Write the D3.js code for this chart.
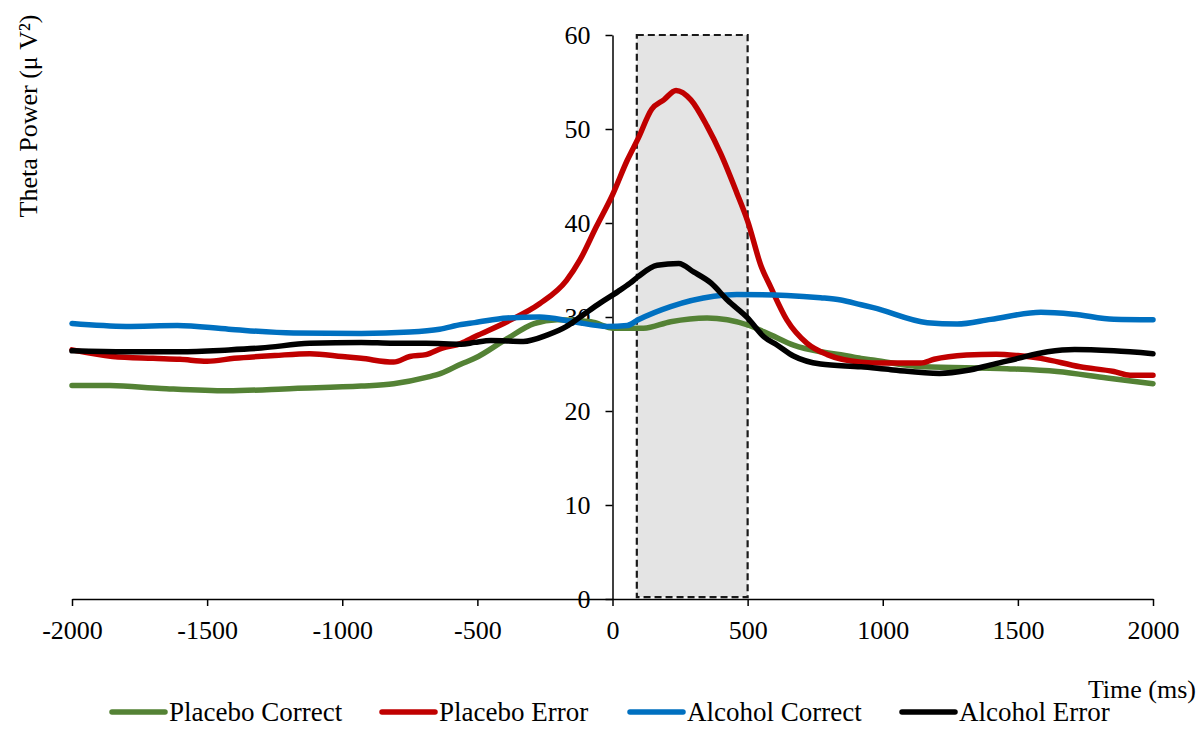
<!DOCTYPE html>
<html>
<head>
<meta charset="utf-8">
<script src="https://cdn.jsdelivr.net/npm/d3@7"></script>
<style>
  body { margin: 0; background: #fff; }
  svg text { font-family: "Liberation Serif", "Times New Roman", serif; fill: #000; }
</style>
</head>
<body>
<svg width="1201" height="751"></svg>
<script>
// data: [time (ms), theta power]
var placeboCorrect = [[-2000,22.7],[-1860,22.7],[-1670,22.4],[-1425,22.15],[-1180,22.4],[-930,22.65],[-810,22.9],
  [-685,23.6],[-635,24.0],[-560,25.0],[-510,25.6],[-390,27.7],[-290,29.3],[-205,29.7],[-80,29.5],[5,28.8],
  [115,28.8],[215,29.5],[350,29.9],[425,29.7],[500,29.15],[585,28.1],[670,27.0],[770,26.3],[845,26.0],
  [920,25.6],[970,25.4],[1150,24.7],[1460,24.5],[1645,24.2],[1830,23.5],[2000,22.9]];

var placeboError = [[-2000,26.5],[-1850,25.8],[-1700,25.6],[-1600,25.5],[-1500,25.3],[-1400,25.6],[-1250,25.9],
  [-1120,26.1],[-1000,25.8],[-930,25.6],[-810,25.2],[-750,25.8],[-690,26.0],[-630,26.7],[-560,27.2],[-510,27.9],
  [-390,29.5],[-270,31.4],[-170,33.9],[-120,36.1],[-60,39.6],[0,43.0],[55,46.7],[95,49.0],[145,52.1],[190,53.1],
  [235,54.1],[290,53.1],[350,50.3],[400,47.4],[460,43.2],[500,40.2],[550,35.4],[585,33.2],[645,29.7],[720,27.2],
  [795,26.0],[920,25.2],[1000,25.1],[1140,25.1],[1190,25.5],[1310,25.95],[1420,26.05],[1500,25.9],[1585,25.6],
  [1730,24.7],[1855,24.2],[1915,23.8],[2000,23.8]];

var alcoholCorrect = [[-2000,29.3],[-1800,29.0],[-1610,29.1],[-1420,28.7],[-1180,28.3],[-930,28.25],[-750,28.4],
  [-640,28.7],[-560,29.2],[-510,29.4],[-390,29.9],[-270,30.0],[-145,29.5],[-20,29.0],[55,29.1],[95,29.7],
  [215,31.1],[375,32.2],[460,32.4],[645,32.3],[770,32.05],[845,31.8],[920,31.3],[965,31.0],[1165,29.4],
  [1275,29.25],[1400,29.75],[1585,30.5],[1705,30.3],[1855,29.75],[2000,29.7]];

var alcoholError = [[-2000,26.4],[-1800,26.3],[-1600,26.3],[-1420,26.5],[-1300,26.7],[-1120,27.2],[-930,27.3],
  [-810,27.2],[-690,27.2],[-560,27.1],[-510,27.3],[-450,27.5],[-330,27.4],[-240,28.1],[-170,29.0],[-110,30.2],
  [-45,31.5],[20,32.7],[65,33.6],[95,34.3],[165,35.5],[245,35.7],[300,34.8],[365,33.6],[425,31.8],[500,29.9],
  [560,27.9],[610,27.0],[670,25.85],[770,25.0],[920,24.7],[1030,24.4],[1210,24.0],[1310,24.3],[1400,24.9],
  [1500,25.6],[1610,26.3],[1710,26.55],[1855,26.4],[2000,26.1]];

var seriesNames = ["Placebo Correct", "Placebo Error", "Alcohol Correct", "Alcohol Error"];
var seriesColors = ["#548235", "#C00000", "#0070C0", "#000000"];
var xTicks = [-2000, -1500, -1000, -500, 0, 500, 1000, 1500, 2000];
var yTicks = [0, 10, 20, 30, 40, 50, 60];
var windowBox = [90, 500];   // shaded time window (ms)

var allSeries = [placeboCorrect, placeboError, alcoholCorrect, alcoholError];

var svg = d3.select("svg");

var x = d3.scaleLinear().domain([-2000, 2000]).range([72, 1153]);
var y = d3.scaleLinear().domain([0, 60]).range([599, 35]);

// shaded window
svg.append("rect")
   .attr("x", x(windowBox[0]))
   .attr("y", y(60))
   .attr("width", x(windowBox[1]) - x(windowBox[0]))
   .attr("height", y(0.2) - y(60))
   .attr("fill", "#e4e4e4")
   .attr("stroke", "#1a1a1a")
   .attr("stroke-width", 2.2)
   .attr("stroke-dasharray", "7,4");

// axes
var xAxis = svg.append("g")
   .attr("transform", "translate(0," + y(0) + ")")
   .call(d3.axisBottom(x).tickValues(xTicks).tickSize(7).tickSizeOuter(0).tickPadding(15)
           .tickFormat(function(d) { return String(d); }));

var yAxis = svg.append("g")
   .attr("transform", "translate(" + x(0) + ",0)")
   .call(d3.axisLeft(y).tickValues(yTicks).tickSize(7).tickSizeOuter(0).tickPadding(15));

[xAxis, yAxis].forEach(function(g) {
  g.selectAll("path, line").attr("stroke", "#000").attr("stroke-width", 1.5);
  g.selectAll("text").attr("font-size", 26).attr("font-family", "Liberation Serif");
});

// lines
var line = d3.line()
   .x(function(d) { return x(d[0]); })
   .y(function(d) { return y(d[1]); })
   .curve(d3.curveMonotoneX);

allSeries.forEach(function(s, i) {
  svg.append("path")
     .datum(s)
     .attr("fill", "none")
     .attr("stroke", seriesColors[i])
     .attr("stroke-width", 5.5)
     .attr("stroke-linejoin", "round")
     .attr("stroke-linecap", "round")
     .attr("d", line);
});

// axis titles
svg.append("text")
   .attr("transform", "translate(37,116) rotate(-90)")
   .attr("text-anchor", "middle")
   .attr("font-size", 26)
   .text("Theta Power (\u03bc V\u00b2)");

svg.append("text")
   .attr("x", 1196)
   .attr("y", 698)
   .attr("text-anchor", "end")
   .attr("font-size", 26)
   .text("Time (ms)");

// legend
var legendX = [112, 382, 630, 902];
var legend = svg.append("g");
seriesNames.forEach(function(name, i) {
  legend.append("line")
     .attr("x1", legendX[i]).attr("x2", legendX[i] + 53)
     .attr("y1", 712).attr("y2", 712)
     .attr("stroke", seriesColors[i])
     .attr("stroke-width", 5.5)
     .attr("stroke-linecap", "round");
  legend.append("text")
     .attr("x", legendX[i] + 57)
     .attr("y", 721)
     .attr("font-size", 27)
     .text(name);
});
</script>
</body>
</html>
